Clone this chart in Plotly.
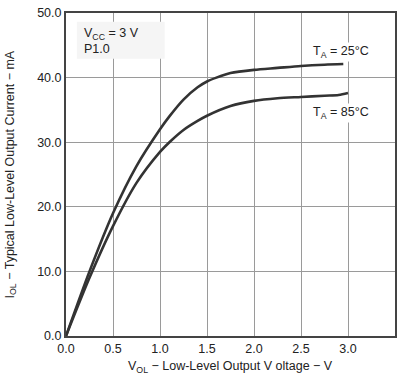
import plotly.graph_objects as go

# Data
vol_25 = [0.0, 0.25, 0.5, 0.75, 1.0, 1.1, 1.25, 1.4, 1.5, 1.6, 1.75, 2.0, 2.25, 2.5, 2.75, 2.95]
iol_25 = [0.0, 10.0, 19.0, 26.3, 32.0, 34.0, 36.6, 38.5, 39.4, 40.0, 40.7, 41.2, 41.5, 41.8, 42.0, 42.1]

vol_85 = [0.0, 0.25, 0.5, 0.75, 1.0, 1.1, 1.25, 1.4, 1.5, 1.75, 2.0, 2.25, 2.5, 2.75, 2.9, 3.0]
iol_85 = [0.0, 9.0, 17.0, 23.7, 28.5, 30.0, 31.9, 33.3, 34.1, 35.6, 36.4, 36.8, 37.0, 37.2, 37.3, 37.6]

x_ticks = [0.0, 0.5, 1.0, 1.5, 2.0, 2.5, 3.0, 3.5]
y_ticks = [0.0, 10.0, 20.0, 30.0, 40.0, 50.0]

label_25 = "T<sub>A</sub> = 25°C"
label_85 = "T<sub>A</sub> = 85°C"
cond_text = "V<sub>CC</sub> = 3 V<br>P1.0"
x_title = "V<sub>OL</sub> − Low-Level Output V oltage − V"
y_title = "I<sub>OL</sub> − Typical Low-Level Output Current − mA"

FONT = "Liberation Sans, Arial, sans-serif"
LINE = "#333333"
TXT = "#222222"

fig = go.Figure()
fig.add_trace(go.Scatter(x=vol_25, y=iol_25, mode="lines",
                         line=dict(color=LINE, width=2.6, shape="spline", smoothing=0.8),
                         showlegend=False, hoverinfo="skip"))
fig.add_trace(go.Scatter(x=vol_85, y=iol_85, mode="lines",
                         line=dict(color=LINE, width=2.6, shape="spline", smoothing=0.8),
                         showlegend=False, hoverinfo="skip"))

fig.update_layout(
    width=403, height=377,
    margin=dict(l=66, r=7, t=6, b=41),
    paper_bgcolor="white", plot_bgcolor="white",
    font=dict(family=FONT, size=12, color="#333333"),
    showlegend=False,
)
fig.update_xaxes(range=[0, 3.5], tickvals=x_ticks,
                 ticktext=[f"{v:.1f}" for v in x_ticks],
                 showgrid=True, gridcolor="#9a9a9a", gridwidth=1,
                 showline=True, linecolor="#444444", linewidth=2, mirror=True,
                 ticks="", zeroline=False, tickfont=dict(size=12.5, color=TXT))
fig.update_yaxes(range=[0, 50], tickvals=y_ticks,
                 ticktext=[f"{v:.1f}" for v in y_ticks],
                 showgrid=True, gridcolor="#9a9a9a", gridwidth=1,
                 showline=True, linecolor="#444444", linewidth=2, mirror=True,
                 ticks="", zeroline=False, tickfont=dict(size=12.5, color=TXT))

# condition box
fig.add_shape(type="rect", xref="paper", yref="paper",
              x0=0.033, x1=0.30, y0=0.858, y1=0.973,
              fillcolor="#f5f5f5", line=dict(width=0), layer="above")
fig.add_annotation(xref="paper", yref="paper", x=0.05, y=0.965,
                   xanchor="left", yanchor="top", align="left",
                   text=cond_text, showarrow=False,
                   font=dict(size=12.5, color=TXT))

fig.add_annotation(x=2.93, y=43.9, text=label_25, showarrow=False,
                   bgcolor="white", font=dict(size=12.5, color=TXT))
fig.add_annotation(x=2.93, y=34.5, text=label_85, showarrow=False,
                   bgcolor="white", font=dict(size=12.5, color=TXT))

fig.add_annotation(xref="paper", yref="paper", x=0.5, y=0, yshift=-31,
                   xanchor="center", yanchor="middle", text=x_title,
                   showarrow=False, font=dict(size=12.5, color=TXT))
fig.add_annotation(xref="paper", yref="paper", x=0, y=0.5, xshift=-56,
                   xanchor="center", yanchor="middle", textangle=-90,
                   text=y_title, showarrow=False,
                   font=dict(size=12.5, color=TXT))

fig.write_html("out.html", config={"displayModeBar": False, "staticPlot": True},
               post_script="document.body.style.margin='0';document.body.style.overflow='hidden';")
